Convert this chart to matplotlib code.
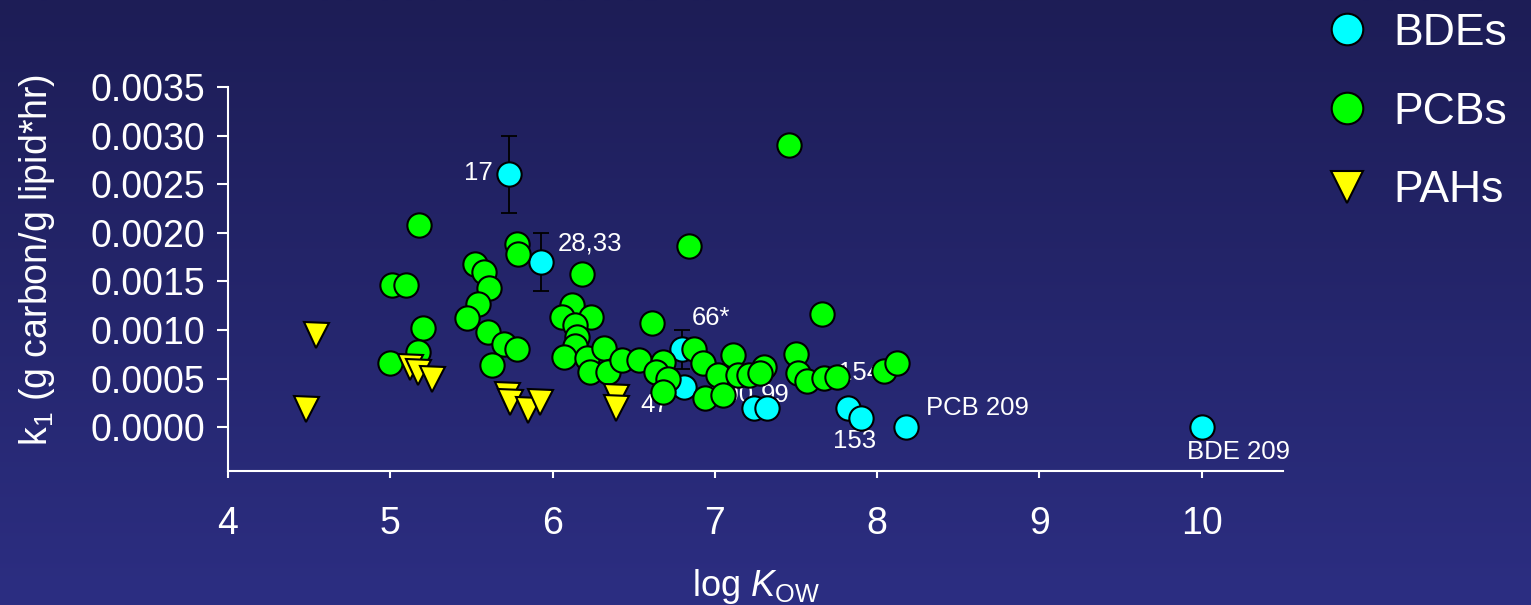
import numpy as np
import matplotlib
matplotlib.use("Agg")
import matplotlib.pyplot as plt

plt.rcParams['font.family'] = ['Liberation Sans', 'DejaVu Sans']
plt.rcParams['mathtext.fontset'] = 'custom'
plt.rcParams['mathtext.rm'] = 'Liberation Sans'
plt.rcParams['mathtext.it'] = 'Liberation Sans:italic'

# BDEs (cyan)
bde_x = [5.73, 5.93, 6.80, 6.81, 7.24, 7.32, 7.82, 7.90, 8.18, 10.0]
bde_y = [0.0026, 0.0017, 0.0008, 0.00041, 0.0002, 0.0002, 0.0002, 0.0001, 0.0000, 0.0000]
bde_err = [0.0004, 0.0003, 0.0002, 0, 0, 0, 0, 0, 0, 0]

# PCBs (green)
pcb_x = [5.18, 5.01, 5.10, 5.20, 5.17, 5.00, 5.52, 5.58, 5.61, 5.54,
         5.47, 5.60, 5.70, 5.78, 5.63, 5.78, 5.79, 6.18, 6.12, 6.06,
         6.24, 6.14, 6.15, 6.14, 6.07, 6.21, 6.32, 6.23, 6.34, 6.43,
         6.53, 6.61, 6.68, 6.64, 6.71, 6.68, 7.66, 6.87, 6.93, 7.02,
         7.11, 6.94, 7.05, 7.14, 7.21, 7.30, 7.50, 7.51, 7.57, 7.67,
         7.75, 8.04, 8.12, 7.46, 6.84, 7.28]
pcb_y = [0.00208, 0.00146, 0.00146, 0.00102, 0.00077, 0.00066, 0.00168, 0.00160, 0.00143, 0.00127,
         0.00112, 0.00098, 0.00086, 0.00080, 0.00064, 0.00188, 0.00178, 0.00158, 0.00126, 0.00113,
         0.00113, 0.00105, 0.00093, 0.00084, 0.00072, 0.00071, 0.00082, 0.00057, 0.00057, 0.00069,
         0.00069, 0.00107, 0.00067, 0.00057, 0.00050, 0.00036, 0.00116, 0.00080, 0.00066, 0.00054,
         0.00074, 0.00030, 0.00033, 0.00054, 0.00054, 0.00062, 0.00075, 0.00056, 0.00048, 0.00051,
         0.00052, 0.00058, 0.00066, 0.00290, 0.00186, 0.00056]

# PAHs (yellow)
pah_x = [4.54, 4.48, 5.12, 5.17, 5.26, 5.72, 5.74, 5.85, 5.92, 6.39, 6.39]
pah_y = [0.00095, 0.000185, 0.00062, 0.00057, 0.00050, 0.00033, 0.00026, 0.00018, 0.00026, 0.00031, 0.00020]

# point labels
lab_text = ['17', '28,33', '66*', '47', '100', '99', '154', '153', 'PCB 209', 'BDE 209']
lab_x = [5.63, 6.03, 6.86, 6.54, 6.97, 7.28, 7.76, 7.73, 8.30, 9.91]
lab_y = [0.00262, 0.00189, 0.00112, 0.00023, 0.00033, 0.00033, 0.00056, -0.00014, 0.0002, -0.00025]
lab_ha = ['right', 'left', 'left', 'left', 'left', 'left', 'left', 'left', 'left', 'left']

fig = plt.figure(figsize=(15.31, 6.05), dpi=100)

# background gradient
bg = fig.add_axes([0, 0, 1, 1], zorder=-10)
top = np.array([29, 29, 86]) / 255
bot = np.array([44, 46, 130]) / 255
t = np.linspace(0, 1, 256)[:, None]
grad = top[None, :] * (1 - t) + bot[None, :] * t
bg.imshow(grad[:, None, :], aspect='auto', extent=[0, 1, 0, 1])
bg.axis('off')

ax = fig.add_axes([0.1489, 0.2215, 0.689, 0.6347])
ax.set_facecolor('none')

ax.errorbar(bde_x, bde_y, yerr=bde_err, fmt='none', ecolor='black',
            elinewidth=1.3, capsize=6, capthick=1.3, zorder=2)
ax.plot(bde_x, bde_y, 'o', ms=17.5, mfc='#00ffff', mec='black', mew=1.5,
        label='BDEs', zorder=3)
ax.plot(pcb_x, pcb_y, 'o', ms=17.5, mfc='#00ff00', mec='black', mew=1.5,
        label='PCBs', zorder=4)
ax.plot(pah_x, pah_y, 'v', ms=18, mfc='#ffff00', mec='black', mew=1.5,
        label='PAHs', zorder=5)

for s, x, y, ha in zip(lab_text, lab_x, lab_y, lab_ha):
    ax.text(x, y, s, color='white', fontsize=18.5, ha=ha, va='center', zorder=1)

ax.set_xlim(4, 10.5)
ax.set_ylim(-0.00045, 0.0035)
ax.set_xticks(np.arange(4, 11, 1))
ax.set_yticks(np.arange(0, 0.00351, 0.0005))
ax.set_yticklabels([f'{v:.4f}' for v in np.arange(0, 0.00351, 0.0005)])

for side in ['top', 'right']:
    ax.spines[side].set_visible(False)
for side in ['left', 'bottom']:
    ax.spines[side].set_color('white')
    ax.spines[side].set_linewidth(1.5)

ax.tick_params(axis='y', colors='white', labelsize=27, length=8, width=1.5, pad=8)
ax.tick_params(axis='x', colors='white', labelsize=27, length=5, width=1.5, pad=20)

ax.set_ylabel(r'$\mathregular{k_1}$ (g carbon/g lipid*hr)', color='white', fontsize=27)
ax.yaxis.set_label_coords(-0.162, 0.55)
ax.set_xlabel(r'log $\mathit{K}_\mathregular{OW}$', color='white', fontsize=26, labelpad=18)

leg = fig.legend(loc='upper left', bbox_to_anchor=(0.839, 1.045), frameon=False,
                 fontsize=32, labelcolor='white', markerscale=1.3,
                 labelspacing=0.85, handletextpad=0.55, handlelength=1.0)

fig.savefig('out.png', dpi=100)
